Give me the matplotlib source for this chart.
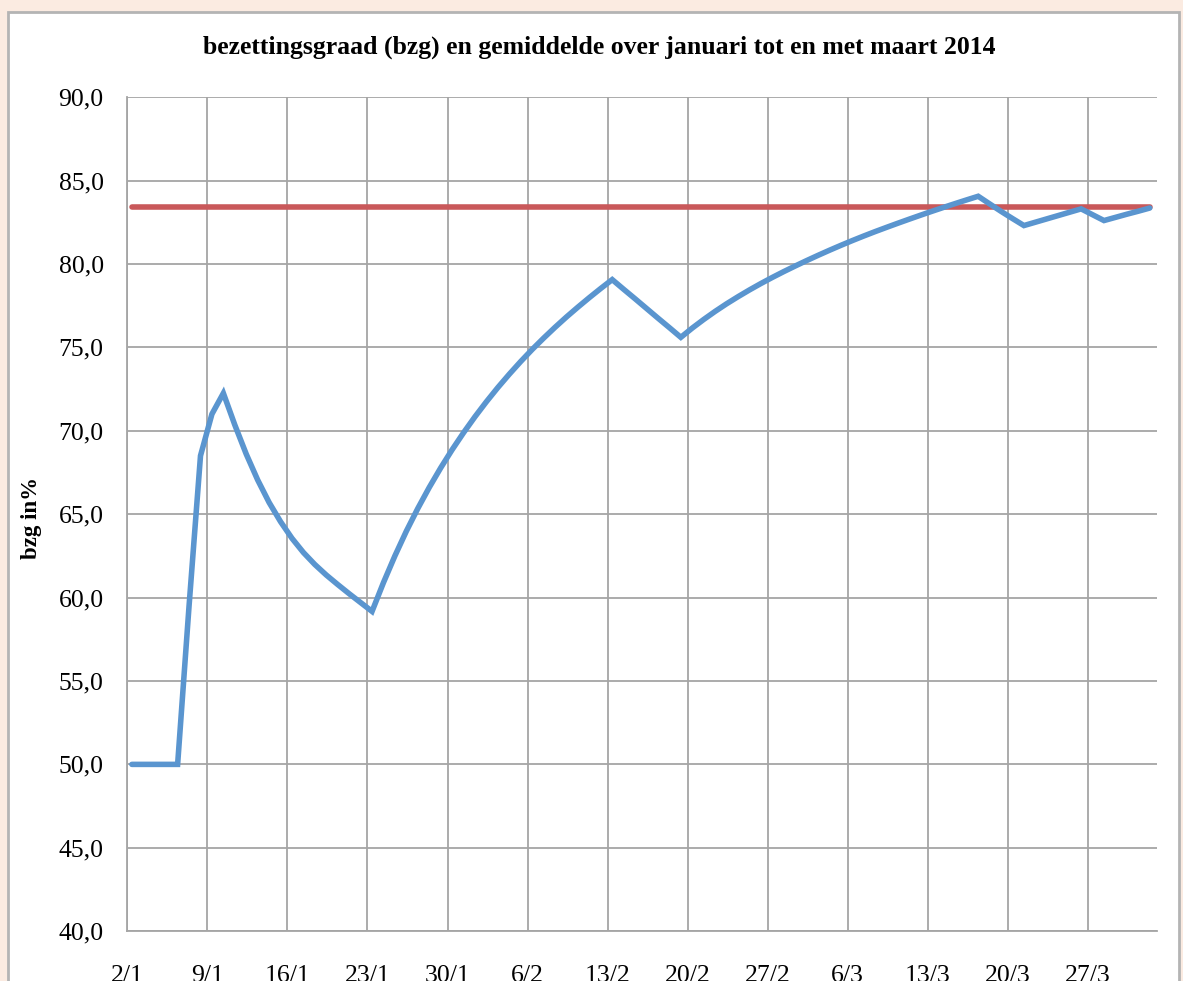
import matplotlib
matplotlib.use('Agg')
import matplotlib.pyplot as plt
from matplotlib.patches import Rectangle

# ---- data ----
tick_labels = ['2/1', '9/1', '16/1', '23/1', '30/1', '6/2', '13/2', '20/2',
               '27/2', '6/3', '13/3', '20/3', '27/3']
tick_days = [0, 7, 14, 21, 28, 35, 42, 49, 56, 63, 70, 77, 84]

bzg = [50.0, 50.0, 50.0, 50.0, 50.0,
       59.5, 68.5, 71.0, 72.25,
       70.35, 68.6, 67.05, 65.7, 64.55, 63.55, 62.7, 61.98, 61.35, 60.78, 60.23,
       59.7, 59.17,
       60.9, 62.5, 63.98, 65.34, 66.6, 67.77, 68.86, 69.88, 70.84, 71.74, 72.59,
       73.39, 74.15, 74.87, 75.55, 76.2, 76.82, 77.41, 77.98, 78.53, 79.06,
       78.48, 77.91, 77.33, 76.75, 76.18, 75.6,
       76.155, 76.67, 77.155, 77.61, 78.035, 78.44, 78.825, 79.19, 79.54, 79.875,
       80.2, 80.515, 80.82, 81.115, 81.4, 81.675, 81.94, 82.195, 82.445, 82.69,
       82.93, 83.165, 83.395, 83.62, 83.84, 84.055,
       83.6, 83.15, 82.72, 82.3,
       82.5, 82.7, 82.9, 83.1, 83.3,
       82.95, 82.6,
       82.79, 82.98, 83.16, 83.35]
gemiddelde_value = 83.4
gemiddelde = [gemiddelde_value] * len(bzg)

x_shift = 0.4
xs = [i + x_shift for i in range(len(bzg))]

title = 'bezettingsgraad (bzg) en gemiddelde over januari tot en met maart 2014'
ylabel = 'bzg in%'

# ---- figure ----
W, H = 1183, 981
fig = plt.figure(figsize=(W / 100, H / 100), dpi=100)
fig.patch.set_facecolor('#fbebe1')

# white panel (behind everything)
panel = Rectangle((8 / W, -0.01), (1179 - 8) / W, 1.01 - 12 / H, transform=fig.transFigure,
                  facecolor='white', edgecolor='#b4b4b4', linewidth=2.0, zorder=-10)
fig.patches.append(panel)

ax_l, ax_r, ax_t, ax_b = 127.3, 1156.6, 97.1, 931.2
ax = fig.add_axes([ax_l / W, 1 - ax_b / H, (ax_r - ax_l) / W, (ax_b - ax_t) / H])
ax.set_zorder(1)
ax.patch.set_alpha(0)

serif = ['Liberation Serif', 'DejaVu Serif']
grid_c = '#a5a5a5'

ax.plot(xs, gemiddelde, color='#c9585a', linewidth=4.0, solid_capstyle='round', zorder=3)
ax.plot(xs, bzg, color='#5a95cf', linewidth=4.0, solid_capstyle='round',
        solid_joinstyle='miter', zorder=4)

ax.set_xlim(0, 90)
ax.set_ylim(40, 90)
ax.set_yticks(range(40, 91, 5))
ax.set_yticklabels([f'{v:.1f}'.replace('.', ',') for v in range(40, 91, 5)])
ax.set_xticks(tick_days)
ax.set_xticklabels(tick_labels)

ax.grid(True, color=grid_c, linewidth=1.3)
ax.set_axisbelow(True)
for s in ['top', 'right']:
    ax.spines[s].set_visible(False)
for s in ['left', 'bottom']:
    ax.spines[s].set_color(grid_c)
    ax.spines[s].set_linewidth(1.3)

ax.tick_params(axis='both', length=0, labelsize=18.5, colors='black')
ax.tick_params(axis='y', pad=17)
ax.tick_params(axis='x', pad=24)
for lab in ax.get_xticklabels() + ax.get_yticklabels():
    lab.set_fontfamily(serif)

fig.text(599 / W, 1 - 47 / H, title, ha='center', va='center', fontsize=18.5,
         fontweight='bold', family=serif)
fig.text(32 / W, 1 - 518 / H, ylabel, ha='center', va='center', rotation=90,
         fontsize=16.5, fontweight='bold', family=serif)

fig.savefig('out.png', dpi=100, facecolor=fig.get_facecolor())
